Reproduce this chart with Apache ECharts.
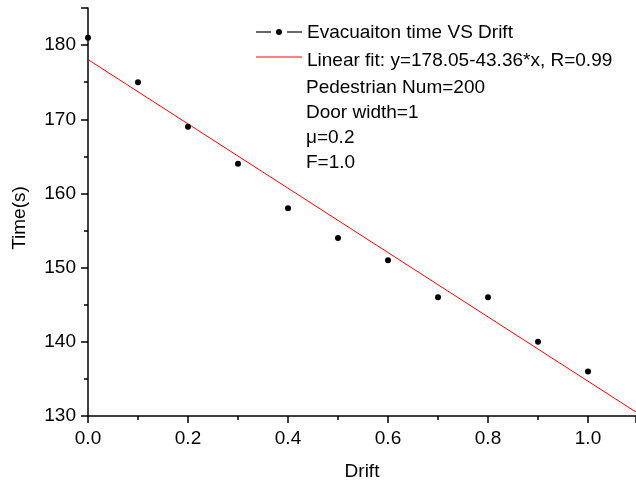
<!DOCTYPE html>
<html>
<head>
<meta charset="utf-8">
<script src="https://cdn.jsdelivr.net/npm/echarts@6/dist/echarts.min.js"></script>
<style>
  html, body { margin: 0; padding: 0; background: #fff; }
</style>
</head>
<body>
<div id="chart" style="width:636px;height:481px;"></div>
<script>
// data
var drift = [0, 0.1, 0.2, 0.3, 0.4, 0.5, 0.6, 0.7, 0.8, 0.9, 1.0];
var evacTime = [181, 175, 169, 164, 158, 154, 151, 146, 146, 140, 136];
var fitIntercept = 178.05;
var fitSlope = -43.36;
var fitRange = [0, 1.096];
var legendNames = ['Evacuaiton time VS Drift', 'Linear fit: y=178.05-43.36*x, R=0.99'];
var noteLines = ['Pedestrian Num=200', 'Door width=1', '\u03bc=0.2', 'F=1.0'];

var font = 'Liberation Sans, Arial, Helvetica, sans-serif';

var pts = drift.map(function (x, i) { return [x, evacTime[i]]; });
var fitPts = fitRange.map(function (x) { return [x, fitIntercept + fitSlope * x]; });

// legend keys drawn by hand (line - dot - line, and the red line)
var keyX = 256, keyW = 46, keyY1 = 32, keyY2 = 57;

var chart = echarts.init(document.getElementById('chart'));
var option = {
  animation: false,
  backgroundColor: '#fff',
  textStyle: { fontFamily: font },
  grid: { left: 88, right: 0, top: 8, bottom: 65, outerBoundsMode: 'none', containLabel: false },
  legend: {
    orient: 'vertical',
    left: keyX,
    top: 23,
    padding: 0,
    itemWidth: keyW,
    itemHeight: 8,
    itemGap: 9,
    selectedMode: false,
    textStyle: { fontSize: 19, color: '#000', fontFamily: font },
    data: [
      { name: legendNames[0], icon: 'none' },
      { name: legendNames[1], icon: 'none' }
    ]
  },
  xAxis: {
    type: 'value',
    min: 0,
    max: fitRange[1],
    interval: 0.2,
    name: 'Drift',
    nameLocation: 'middle',
    nameGap: 46,
    nameTextStyle: { fontSize: 19, color: '#000' },
    splitLine: { show: false },
    axisLine: { lineStyle: { color: '#000', width: 1.5 } },
    axisTick: { length: 7, lineStyle: { color: '#000', width: 1.5 } },
    minorTick: { show: true, splitNumber: 2, length: 4, lineStyle: { color: '#000', width: 1.5 } },
    axisLabel: {
      fontSize: 19, color: '#000', margin: 13, showMaxLabel: false,
      formatter: function (v) { return v.toFixed(1); }
    }
  },
  yAxis: {
    type: 'value',
    min: 130,
    max: 185,
    interval: 10,
    name: 'Time(s)',
    nameLocation: 'middle',
    nameGap: 59,
    nameTextStyle: { fontSize: 19, color: '#000', padding: [0, 12, 0, 0] },
    splitLine: { show: false },
    axisLine: { show: true, lineStyle: { color: '#000', width: 1.5 } },
    axisTick: { length: 7, lineStyle: { color: '#000', width: 1.5 } },
    minorTick: { show: true, splitNumber: 2, length: 4, lineStyle: { color: '#000', width: 1.5 } },
    axisLabel: { fontSize: 19, color: '#000', margin: 12, showMaxLabel: false }
  },
  graphic: [
    {
      type: 'text',
      left: 306,
      top: 75,
      style: {
        text: noteLines.join('\n'),
        font: '19px ' + font,
        fill: '#000',
        lineHeight: 25
      }
    },
    { type: 'line', shape: { x1: keyX, y1: keyY1, x2: keyX + 15, y2: keyY1 }, style: { stroke: '#000', lineWidth: 1.2 } },
    { type: 'circle', shape: { cx: keyX + 23, cy: keyY1, r: 3 }, style: { fill: '#000' } },
    { type: 'line', shape: { x1: keyX + 31, y1: keyY1, x2: keyX + keyW, y2: keyY1 }, style: { stroke: '#000', lineWidth: 1.2 } },
    { type: 'line', shape: { x1: keyX, y1: keyY2, x2: keyX + keyW, y2: keyY2 }, style: { stroke: '#ff0000', lineWidth: 1 } }
  ],
  series: [
    {
      name: legendNames[0],
      type: 'line',
      data: pts,
      symbol: 'circle',
      symbolSize: 6,
      itemStyle: { color: '#000' },
      lineStyle: { width: 0, opacity: 0 },
      z: 3
    },
    {
      name: legendNames[1],
      type: 'line',
      data: fitPts,
      symbol: 'none',
      itemStyle: { color: '#ff0000' },
      lineStyle: { width: 1, color: '#ff0000' },
      z: 2
    }
  ]
};
chart.setOption(option);
</script>
</body>
</html>
